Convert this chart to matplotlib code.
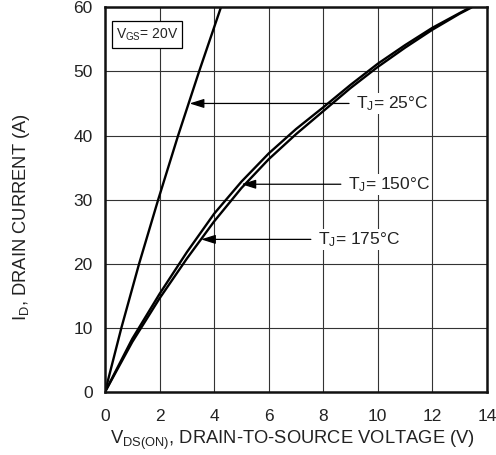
import matplotlib
matplotlib.use("Agg")
import matplotlib.pyplot as plt
from matplotlib.patches import Rectangle

plt.rcParams['font.family'] = ['Liberation Sans', 'DejaVu Sans']
plt.rcParams['mathtext.default'] = 'regular'

# curves
v_25 = [0, 0.6, 1.25, 1.95, 2.68, 3.45, 4.25]
i_25 = [0, 10, 20, 30, 40, 50, 60]

v_150 = [0, 1, 2, 3, 4, 5, 6, 7, 8, 9, 10, 11, 12, 13, 13.4]
i_150 = [0, 8.3, 15.3, 21.8, 27.8, 32.8, 37.2, 41.0, 44.4, 47.9, 51.2, 54.1, 56.8, 59.1, 60]

v_175 = [0, 1, 2, 3, 4, 5, 6, 7, 8, 9, 10, 11, 12, 13, 13.45]
i_175 = [0, 7.8, 14.6, 20.8, 26.6, 31.8, 36.3, 40.2, 43.8, 47.4, 50.7, 53.7, 56.5, 59.0, 60]

x_ticks = [0, 2, 4, 6, 8, 10, 12, 14]
y_ticks = [0, 10, 20, 30, 40, 50, 60]

fig = plt.figure(figsize=(4.96, 4.55), dpi=100)
ax = fig.add_axes([0.2117, 0.1385, 0.77, 0.8455])

ax.plot(v_25, i_25, color='black', lw=1.7, solid_capstyle='butt')
ax.plot(v_150, i_150, color='black', lw=1.7, solid_capstyle='butt')
ax.plot(v_175, i_175, color='black', lw=1.7, solid_capstyle='butt')

ax.set_xlim(0, 14)
ax.set_ylim(0, 60)
ax.set_xticks(x_ticks)
ax.set_yticks(y_ticks)
ax.tick_params(length=0, labelsize=12.5, colors='#222222')
ax.tick_params(axis='x', pad=12)
ax.tick_params(axis='y', pad=9)
ax.grid(True, color='#333333', lw=0.8)
ax.set_axisbelow(True)
for s in ax.spines.values():
    s.set_linewidth(1.8)
    s.set_color('#111111')

ax.set_xlabel('V$_{DS(ON)}$, DRAIN-TO-SOURCE VOLTAGE (V)', fontsize=13.2, color='#222222')
ax.xaxis.set_label_coords(0.49, -0.095)
ax.set_ylabel('I$_D$, DRAIN CURRENT (A)', fontsize=13.2, color='#222222')
ax.yaxis.set_label_coords(-0.19, 0.455)

# V_GS box
ax.add_patch(Rectangle((0.0175, 0.8934), 0.185, 0.0718, transform=ax.transAxes,
                       facecolor='white', edgecolor='black', lw=0.9, zorder=5))
ax.text(0.0175 + 0.0925, 0.8934 + 0.036, 'V$_{GS}$= 20V', transform=ax.transAxes,
        ha='center', va='center', fontsize=10, color='#222222', zorder=6)

arrow = dict(arrowstyle='-|>,head_length=0.7,head_width=0.22', color='black', lw=0.9,
             shrinkA=4, shrinkB=0)
ax.annotate('T$_J$= 25°C', xy=(3.1, 45), xytext=(9.2, 45), fontsize=12.5, color='#222222',
            ha='left', va='center', arrowprops=arrow,
            bbox=dict(facecolor='white', edgecolor='none', pad=1))
ax.annotate('T$_J$= 150°C', xy=(5.0, 32.4), xytext=(8.9, 32.4), fontsize=12.5, color='#222222',
            ha='left', va='center', arrowprops=arrow,
            bbox=dict(facecolor='white', edgecolor='none', pad=1))
ax.annotate('T$_J$= 175°C', xy=(3.52, 23.8), xytext=(7.8, 23.8), fontsize=12.5, color='#222222',
            ha='left', va='center', arrowprops=arrow,
            bbox=dict(facecolor='white', edgecolor='none', pad=1))

fig.savefig('out.png', dpi=100)
